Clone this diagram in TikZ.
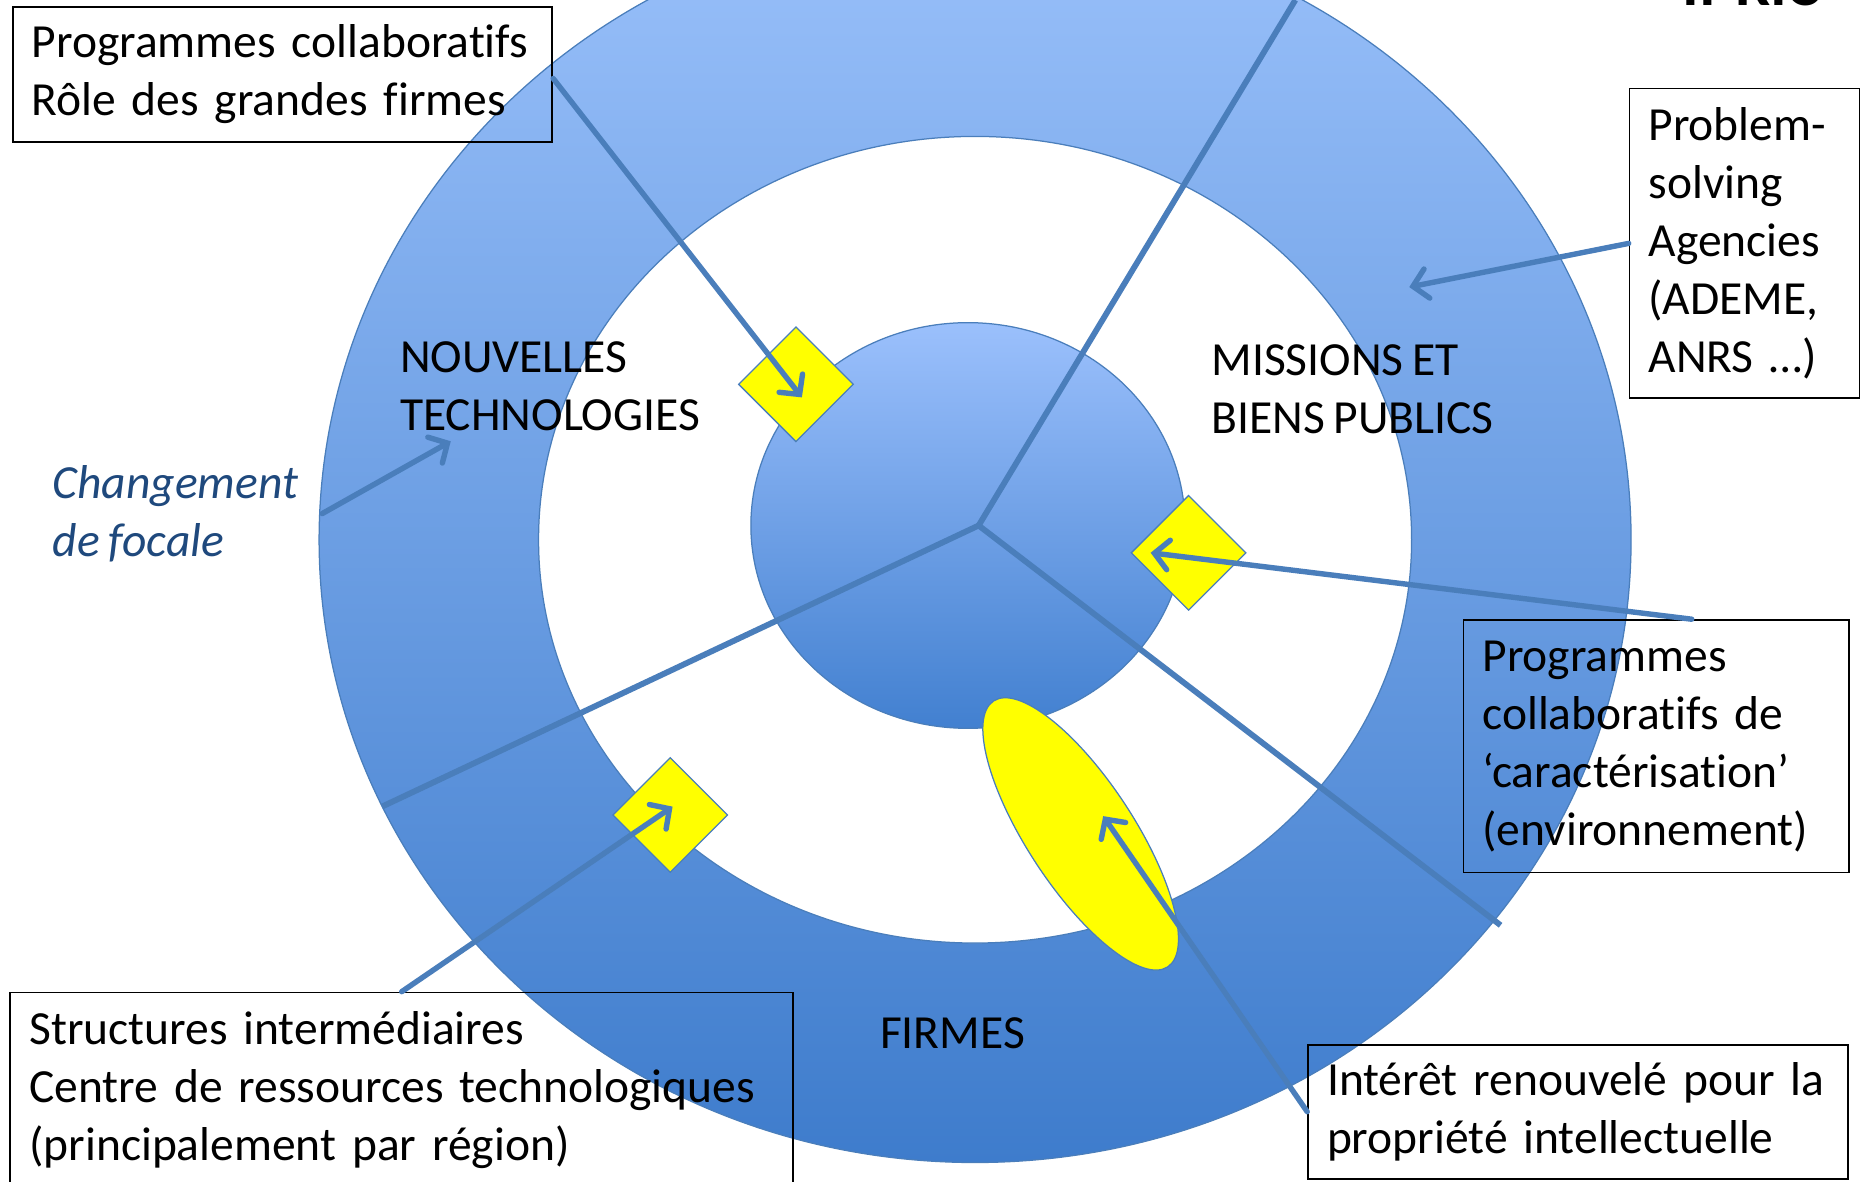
\documentclass[tikz,border=0pt]{standalone}
\usepackage{fontspec}
\setmainfont{Carlito}[WordSpace=0.8,Ligatures=NoCommon]
\usetikzlibrary{calc,positioning,arrows.meta,shapes.geometric}
\definecolor{ringtop}{RGB}{153,192,250}
\definecolor{ringbot}{RGB}{62,124,204}
\definecolor{hubtop}{RGB}{155,192,252}
\definecolor{hubbot}{RGB}{66,128,208}
\definecolor{linkblue}{RGB}{74,126,187}
\definecolor{focus}{RGB}{31,73,125}
\definecolor{marker}{RGB}{255,255,0}

\begin{document}
\begin{tikzpicture}[
  x=0.02cm,y=-0.02cm,
  spoke/.style={line width=2.8pt,color=linkblue},
  pointer/.style={line width=2.6pt,color=linkblue,line cap=round,
    -{Straight Barb[length=2.4mm,width=5mm,line cap=round]}},
  infobox/.style={draw=black,line width=0.8pt,align=left,anchor=north west,
    inner xsep=0.32cm,inner ysep=0pt,font=\fontsize{22.8}{27.8}\selectfont},
  sector/.style={align=left,inner sep=0pt,anchor=west,font=\fontsize{22.8}{27.8}\selectfont},
  target/.style={diamond,fill=marker,draw=linkblue,line width=0.6pt,
    minimum width=1.94cm,minimum height=1.94cm,inner sep=0pt},
  ]

  \useasboundingbox (0,0) rectangle (1568,996);
  \clip (0,0) rectangle (1568,996);

  % rings
  \shade[top color=ringtop,bottom color=ringbot,draw=linkblue,line width=0.6pt]
    (822,455) ellipse [x radius=553,y radius=525];
  \fill[white,draw=linkblue,line width=0.6pt] (822,455) ellipse [x radius=368,y radius=340];
  \shade[top color=hubtop,bottom color=hubbot,draw=linkblue,line width=0.6pt]
    (816,443) ellipse [x radius=183,y radius=171];

  % spokes
  \coordinate (hub) at (825,443);
  \foreach \e in {(1092,0),(322,680),(1265,780)}
    \draw[spoke] (hub) -- \e;

  % markers
  \node[target] (d1) at (671,324) {};
  \node[target] (d2) at (1002,466) {};
  \node[target] (d3) at (565,687) {};
  \node[ellipse,fill=marker,draw=linkblue,line width=0.6pt,inner sep=0pt,
    minimum width=5.36cm,minimum height=1.8cm,rotate=-56.8] (ip) at (911,703) {};

  % sector labels
  \node[sector] (nt) at (337,326) {NOUVELLES\\TECHNOLOGIES};
  \node[sector] (mb) at (1021,328) {MISSIONS ET\\BIENS PUBLICS};
  \node[sector,anchor=center] (fi) at (803,871) {FIRMES};
  \node[sector,text=focus,font=\fontsize{22.8}{27.8}\selectfont\itshape] (focale) at (44,433)
    {Changement\\de focale};

  % boxes
  \node[infobox,text width=8.46cm,minimum height=2.28cm] (b1) at (10,5)
    {Programmes collaboratifs\\R\^{o}le des grandes firmes};
  \node[infobox,text width=3.24cm,minimum height=5.22cm] (b2) at (1373,74)
    {Problem-\\solving\\Agencies\\(ADEME,\\ANRS …)};
  \node[infobox,text width=5.86cm,minimum height=4.26cm] (b3) at (1233,522)
    {Programmes\\collaboratifs de\\‘caractérisation’\\(environnement)};
  \node[infobox,text width=12.56cm,minimum height=3.28cm] (b4) at (8,836)
    {Structures intermédiaires\\Centre de ressources technologiques\\(principalement par région)};
  \node[infobox,text width=8.46cm,minimum height=2.26cm] (b5) at (1102,880)
    {Intérêt renouvelé pour la\\propriété intellectuelle};

  % title, cut by the page
  \node[anchor=base west,inner sep=0pt,font=\fontsize{30}{36}\selectfont\bfseries] (ttl) at (1418,5) {II-RIC};

  % arrows
  \coordinate (t1) at (676,335);
  \coordinate (t2) at (1188,242);
  \coordinate (t3) at (380,372);
  \coordinate (t4) at (970,466);
  \coordinate (t5) at (567,680);
  \coordinate (t6) at (930,688);
  \draw[pointer] ($(b1.north east)!0.53!(b1.south east)$) -- (t1);
  \draw[pointer] (b2.west) -- (t2);
  \draw[pointer] ($(focale.east)+(20,0)$) -- (t3);
  \draw[pointer] ($(b3.north)+(30,0)$) -- (t4);
  \draw[pointer] (b4.north) -- (t5);
  \draw[pointer] (b5.west) -- (t6);

\end{tikzpicture}
\end{document}
